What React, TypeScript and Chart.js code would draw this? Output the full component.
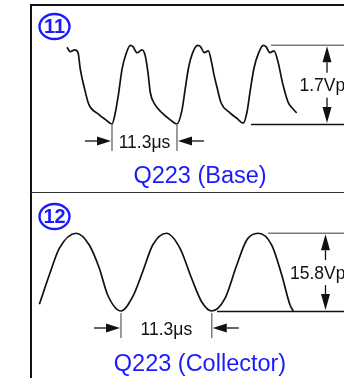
import React, { useEffect, useRef } from "react";
import { Chart, registerables } from "chart.js";
Chart.register(...registerables);

// ---- data (time in µs, amplitude in V) ----
const periodUs = 11.3;
const baseVpp = 1.7;
const colVpp = 15.8;
const periodLabel = "11.3μs";
const baseVppLabel = "1.7Vp-p";
const colVppLabel = "15.8Vp-p";
const baseTitle = "Q223 (Base)";
const colTitle = "Q223 (Collector)";
const panelNumbers = ["11", "12"];

const baseTime = [
  -7.83, -7.25, -6.49, -5.91, -5.51, -4.75, -4.05, -2.31, -1.17, 0, 0.57, 1.17, 1.74, 2.43, 3.18, 3.65, 4.35, 5.22,
  5.79, 6.26, 6.66, 7.43, 8.7, 10.14, 11.3,
  12.17, 12.7, 13.3, 14.0, 14.9, 15.39, 16.05, 16.75, 17.34, 17.74, 18.21, 18.96, 20.52, 21.74, 22.83,
  23.48, 24.0, 24.7, 25.48, 26.31, 26.78, 27.48, 28.17, 28.92, 29.39, 29.79, 30.66, 31.3, 32.12,
];
const baseVolt = [
  1.66, 1.56, 1.6, 1.54, 1.18, 0.75, 0.43, 0.21, 0.1, 0, 0.24, 0.68, 1.18, 1.51, 1.7, 1.67, 1.54, 1.6, 1.47, 1.11,
  0.68, 0.43, 0.24, 0.09, 0,
  0.3, 0.73, 1.21, 1.53, 1.7, 1.67, 1.54, 1.58, 1.32, 1.06, 0.82, 0.46, 0.24, 0.12, 0.02,
  0.26, 0.69, 1.21, 1.53, 1.7, 1.67, 1.54, 1.58, 1.32, 1.04, 0.82, 0.46, 0.35, 0.24,
];

const colTime = [
  -10.17, -8.93, -7.68, -5.6, -3.95, -2.7, -1.66, 0, 1.46, 2.7, 3.95, 5.67, 7.35, 8.79, 10.04, 11.3, 12.95, 14.42,
  15.66, 17.11, 18.77, 20.02, 21.05, 21.46,
];
const colVolt = [
  1.36, 7.32, 12.74, 15.8, 13.41, 8.68, 3.25, 0, 2.91, 7.99, 13.41, 15.8, 12.74, 6.65, 1.89, 0, 2.58, 9.35, 14.43,
  15.8, 13.41, 7.32, 1.22, 0,
];

const FONT = "'Liberation Sans', Arial, sans-serif";
const BLUE = "#1a1aff";
const INK = "#111111";
const GUIDE = "#7a7a7a";

function arrowH(ctx: CanvasRenderingContext2D, tail: number, tip: number, y: number) {
  const dir = tip > tail ? 1 : -1;
  const head = 14;
  ctx.strokeStyle = INK;
  ctx.lineWidth = 1.3;
  ctx.beginPath();
  ctx.moveTo(tail, y);
  ctx.lineTo(tip - dir * head, y);
  ctx.stroke();
  ctx.fillStyle = INK;
  ctx.beginPath();
  ctx.moveTo(tip, y);
  ctx.lineTo(tip - dir * head, y - 4.5);
  ctx.lineTo(tip - dir * head, y + 4.5);
  ctx.closePath();
  ctx.fill();
}

function arrowV(ctx: CanvasRenderingContext2D, x: number, tail: number, tip: number) {
  const dir = tip > tail ? 1 : -1;
  const head = 16;
  ctx.strokeStyle = INK;
  ctx.lineWidth = 1.3;
  ctx.beginPath();
  ctx.moveTo(x, tail);
  ctx.lineTo(x, tip - dir * head);
  ctx.stroke();
  ctx.fillStyle = INK;
  ctx.beginPath();
  ctx.moveTo(x, tip);
  ctx.lineTo(x - 4.5, tip - dir * head);
  ctx.lineTo(x + 4.5, tip - dir * head);
  ctx.closePath();
  ctx.fill();
}

function line(ctx: CanvasRenderingContext2D, x1: number, y1: number, x2: number, y2: number, color: string, w: number) {
  ctx.strokeStyle = color;
  ctx.lineWidth = w;
  ctx.beginPath();
  ctx.moveTo(x1, y1);
  ctx.lineTo(x2, y2);
  ctx.stroke();
}

function circledNumber(ctx: CanvasRenderingContext2D, cx: number, cy: number, txt: string) {
  ctx.strokeStyle = BLUE;
  ctx.lineWidth = 2.4;
  ctx.beginPath();
  ctx.ellipse(cx, cy, 15, 12.5, 0, 0, Math.PI * 2);
  ctx.stroke();
  ctx.fillStyle = BLUE;
  ctx.font = `bold 20px ${FONT}`;
  ctx.textAlign = "center";
  ctx.textBaseline = "middle";
  ctx.fillText(txt, cx, cy + 1);
}

const annotPlugin = {
  id: "annot",
  beforeDraw(chart: any) {
    const ctx = chart.ctx as CanvasRenderingContext2D;
    ctx.save();
    ctx.fillStyle = "#ffffff";
    ctx.fillRect(0, 0, chart.width, chart.height);
    ctx.restore();
  },
  afterDatasetsDraw(chart: any) {
    const ctx = chart.ctx as CanvasRenderingContext2D;
    const W = chart.width;
    const H = chart.height;
    const s = chart.scales;
    ctx.save();

    // frame
    line(ctx, 30, 5, W, 5, INK, 2);
    line(ctx, 31, 4, 31, H, INK, 2);
    line(ctx, 31, 192.5, W, 192.5, "#333333", 1.2);

    circledNumber(ctx, 54.5, 26.5, panelNumbers[0]);
    circledNumber(ctx, 54.5, 216.5, panelNumbers[1]);

    const panels = [
      { x: s.xB, y: s.yB, vpp: baseVpp, vppLabel: baseVppLabel, title: baseTitle, topFrom: 271, botFrom: 251, ax: 327, textX: 299.5, barTop: 0, titleDy: 59 },
      { x: s.xC, y: s.yC, vpp: colVpp, vppLabel: colVppLabel, title: colTitle, topFrom: 268, botFrom: 217, ax: 325.5, textX: 290, barTop: 2, titleDy: 60 },
    ];

    panels.forEach((p) => {
      const x0 = p.x.getPixelForValue(0);
      const x1 = p.x.getPixelForValue(periodUs);
      const yBot = p.y.getPixelForValue(0);
      const yTop = p.y.getPixelForValue(p.vpp);

      // period markers
      line(ctx, x0, yBot + p.barTop, x0, yBot + 27, GUIDE, 1.5);
      line(ctx, x1, yBot + p.barTop, x1, yBot + 27, GUIDE, 1.5);
      const ay = yBot + 17;
      arrowH(ctx, x0 - 27, x0 - 1, ay);
      arrowH(ctx, x1 + 27, x1 + 1, ay);
      ctx.fillStyle = INK;
      ctx.font = `17.5px ${FONT}`;
      ctx.textAlign = "center";
      ctx.textBaseline = "alphabetic";
      ctx.fillText(periodLabel, (x0 + x1) / 2, yBot + 24.5);

      // amplitude markers
      line(ctx, p.topFrom, yTop, W, yTop, GUIDE, 1.5);
      line(ctx, p.botFrom, yBot + 0.5, W, yBot + 0.5, INK, 1.3);
      const mid = (yTop + yBot) / 2;
      arrowV(ctx, p.ax, mid - 12, yTop + 1);
      arrowV(ctx, p.ax, mid + 13, yBot - 1);
      ctx.fillStyle = INK;
      ctx.font = `17.5px ${FONT}`;
      ctx.textAlign = "left";
      ctx.fillText(p.vppLabel, p.textX, mid + 6.5);

      // title
      ctx.fillStyle = BLUE;
      ctx.font = `23.5px ${FONT}`;
      ctx.textAlign = "center";
      ctx.fillText(p.title, 200, yBot + p.titleDy);
    });

    ctx.restore();
  },
};

export default function App() {
  const ref = useRef<HTMLCanvasElement>(null);
  useEffect(() => {
    const canvas = ref.current;
    if (!canvas) return;
    const chart = new Chart(canvas, {
      type: "scatter",
      data: {
        datasets: [
          {
            data: baseTime.map((t, i) => ({ x: t, y: baseVolt[i] })),
            xAxisID: "xB",
            yAxisID: "yB",
            showLine: true,
            borderColor: INK,
            borderWidth: 1.7,
            pointRadius: 0,
            cubicInterpolationMode: "monotone",
            clip: false,
          } as any,
          {
            data: colTime.map((t, i) => ({ x: t, y: colVolt[i] })),
            xAxisID: "xC",
            yAxisID: "yC",
            showLine: true,
            borderColor: INK,
            borderWidth: 1.7,
            pointRadius: 0,
            cubicInterpolationMode: "monotone",
            clip: false,
          } as any,
        ],
      },
      options: {
        responsive: false,
        animation: false,
        devicePixelRatio: 1,
        events: [],
        layout: { padding: 0 },
        plugins: { legend: { display: false }, tooltip: { enabled: false } },
        scales: {
          xB: { type: "linear", display: false, min: -19.478, max: 40.348 },
          yB: { type: "linear", display: false, min: -5.486, max: 2.678 },
          xC: { type: "linear", display: false, min: -15.068, max: 27.771 },
          yC: { type: "linear", display: false, min: -13.618, max: 63.211 },
        },
      },
      plugins: [annotPlugin as any],
    });
    return () => chart.destroy();
  }, []);
  return (
    <div style={{ position: "absolute", left: 0, top: 0, width: 344, height: 378, background: "#fff" }}>
      <canvas ref={ref} width={344} height={378} style={{ display: "block" }} />
    </div>
  );
}
